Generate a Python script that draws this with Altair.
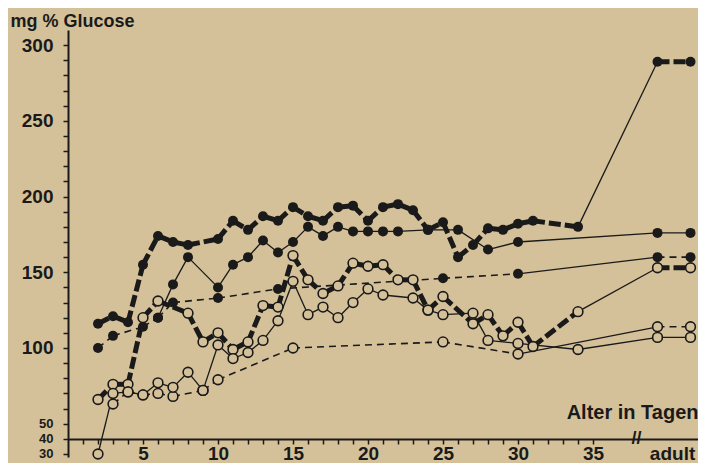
import altair as alt
import pandas as pd

BG = "#d5c199"
INK = "#1a1a1a"

# x positions used for the two "adult" measurements (beyond the axis break)
adult_x = [39.3, 41.5]

# filled circles, heavy dashed line
a_days = [2, 3, 4, 5, 6, 7, 8, 10, 11, 12, 13, 14, 15, 16, 17, 18, 19, 20, 21, 22, 23, 24, 25, 26, 27, 28, 29, 30, 31, 34]
a_vals = [116, 121, 117, 155, 174, 170, 168, 172, 184, 178, 187, 184, 193, 187, 184, 193, 194, 184, 193, 195, 191, 178, 183, 160, 168, 179, 178, 182, 184, 180]
a_adult = 289

# filled circles, thin solid line
b_days = [6, 7, 8, 10, 11, 12, 13, 14, 15, 16, 17, 18, 19, 20, 21, 22, 24, 26, 28, 30]
b_vals = [120, 142, 160, 140, 155, 160, 171, 163, 170, 180, 174, 180, 177, 177, 177, 177, 178, 178, 165, 170]
b_adult = 176

# filled circles, thin dashed line
c_days = [2, 3, 5, 6, 7, 10, 14, 25, 30]
c_vals = [100, 108, 114, 120, 130, 133, 139, 146, 149]
c_adult = 160

# open circles, heavy dashed line
d_days = [2, 3, 4, 5, 6, 8, 9, 10, 11, 12, 13, 14, 15, 16, 17, 18, 19, 20, 21, 22, 23, 24, 25, 27, 28, 29, 30, 31, 34]
d_vals = [66, 76, 76, 120, 131, 123, 104, 110, 99, 104, 128, 127, 161, 145, 136, 141, 156, 154, 155, 145, 145, 125, 134, 116, 122, 108, 117, 101, 124]
d_adult = 153

# open circles, thin dashed line
e_days = [3, 4, 5, 6, 7, 9, 10, 15, 25, 30]
e_vals = [63, 71, 69, 70, 68, 72, 79, 100, 104, 96]
e_adult = 114

# open circles, thin solid line
f_days = [2, 3, 4, 5, 6, 7, 8, 9, 10, 11, 12, 13, 14, 15, 16, 17, 18, 19, 20, 21, 23, 24, 25, 27, 28, 30, 34]
f_vals = [30, 70, 71, 69, 77, 74, 84, 72, 102, 93, 97, 105, 118, 144, 122, 127, 120, 130, 139, 135, 133, 125, 122, 123, 105, 103, 99]
f_adult = 107

series = [
    ("A", a_days, a_vals, a_adult, "thick", "filled"),
    ("B", b_days, b_vals, b_adult, "solid", "filled"),
    ("C", c_days, c_vals, c_adult, "dashed", "filled"),
    ("D", d_days, d_vals, d_adult, "thick", "open"),
    ("E", e_days, e_vals, e_adult, "dashed", "open"),
    ("F", f_days, f_vals, f_adult, "solid", "open"),
]

y_ticks = list(range(30, 301, 10))
x_ticks = list(range(1, 36)) + [40.27]

seg_rows, pt_rows = [], []
for name, days, vals, adult, style, fill in series:
    xs = list(days) + adult_x
    ys = list(vals) + [adult, adult]
    for i in range(len(xs) - 1):
        st = "solid" if i == len(days) - 1 else style
        sid = f"{name}{i}"
        seg_rows.append(dict(seg=sid, day=xs[i], val=ys[i], style=st))
        seg_rows.append(dict(seg=sid, day=xs[i + 1], val=ys[i + 1], style=st))
    for x, y in zip(xs, ys):
        pt_rows.append(dict(day=x, val=y, fill=fill, series=name))

segs = pd.DataFrame(seg_rows)
pts = pd.DataFrame(pt_rows)
brk = pd.DataFrame({"day": [37.9], "val": [40], "t": ["//"]})

FONT = "Liberation Sans"

X = alt.X(
    "day:Q",
    scale=alt.Scale(domain=[0, 42], nice=False, zero=False),
    axis=alt.Axis(
        values=x_ticks,
        labelExpr="datum.value > 36 ? 'adult' : (datum.value % 5 == 0 ? datum.label : '')",
        offset=-18,
        grid=False,
        domainColor=INK,
        domainWidth=2,
        tickColor=INK,
        tickWidth=1.5,
        tickSize=5,
        tickOpacity={"condition": {"test": "datum.value > 36", "value": 0}, "value": 1},
        labelFont=FONT,
        labelFontSize=19,
        labelFontWeight="bold",
        labelColor=INK,
        labelPadding=9,
        labelBaseline="middle",
        labelFlush=False,
        labelOverlap=False,
        title="Alter  in  Tagen",
        titleFont=FONT,
        titleFontSize=20,
        titleFontWeight="bold",
        titleColor=INK,
        titleAlign="right",
        titleBaseline="middle",
        titleX=630,
        titleY=-27,
    ),
)

Y = alt.Y(
    "val:Q",
    scale=alt.Scale(domain=[28, 310], nice=False, zero=False),
    axis=alt.Axis(
        values=y_ticks,
        labelExpr="(datum.value % 50 == 0 || datum.value == 40 || datum.value == 30) ? datum.label : ''",
        grid=False,
        domainColor=INK,
        domainWidth=2,
        tickColor=INK,
        tickWidth=1.5,
        tickSize=5,
        labelFont=FONT,
        labelFontSize={"condition": {"test": "datum.value <= 50", "value": 13}, "value": 19},
        labelFontWeight="bold",
        labelColor=INK,
        labelPadding=10,
        labelFlush=False,
        labelOverlap=False,
        title="mg % Glucose",
        titleFont=FONT,
        titleFontSize=18,
        titleFontWeight="bold",
        titleColor=INK,
        titleAngle=0,
        titleAlign="left",
        titleBaseline="alphabetic",
        titleX=-58,
        titleY=-4,
    ),
)

base_line = alt.Chart(segs).encode(x=X, y=Y, detail="seg:N")

thick = base_line.transform_filter("datum.style == 'thick'").mark_line(
    color=INK, strokeWidth=5, strokeDash=[12, 4], strokeCap="butt"
)
dashed = base_line.transform_filter("datum.style == 'dashed'").mark_line(
    color=INK, strokeWidth=1.6, strokeDash=[7, 5]
)
solid = base_line.transform_filter("datum.style == 'solid'").mark_line(
    color=INK, strokeWidth=1.3
)

filled = alt.Chart(pts).transform_filter("datum.fill == 'filled'").mark_point(
    shape="circle", filled=True, size=100, color=INK, opacity=1
).encode(x=X, y=Y)

opened = alt.Chart(pts).transform_filter("datum.fill == 'open'").mark_point(
    shape="circle", filled=True, size=95, fill=BG, stroke=INK, strokeWidth=1.6, opacity=1
).encode(x=X, y=Y)

breaks = alt.Chart(brk).mark_text(
    font=FONT, fontSize=18, fontWeight="bold", color=INK, baseline="middle", align="center"
).encode(x=X, y=Y, text="t:N")

chart = (
    alt.layer(thick, dashed, solid, filled, opened, breaks)
    .properties(
        width=630,
        height=427,
        autosize=alt.AutoSizeParams(type="none"),
        padding={"left": 60, "top": 22, "right": 0, "bottom": 6},
        background=BG,
    )
    .configure_view(stroke=None)
)

chart.save("out.html", embed_options={"renderer": "svg", "actions": False})
